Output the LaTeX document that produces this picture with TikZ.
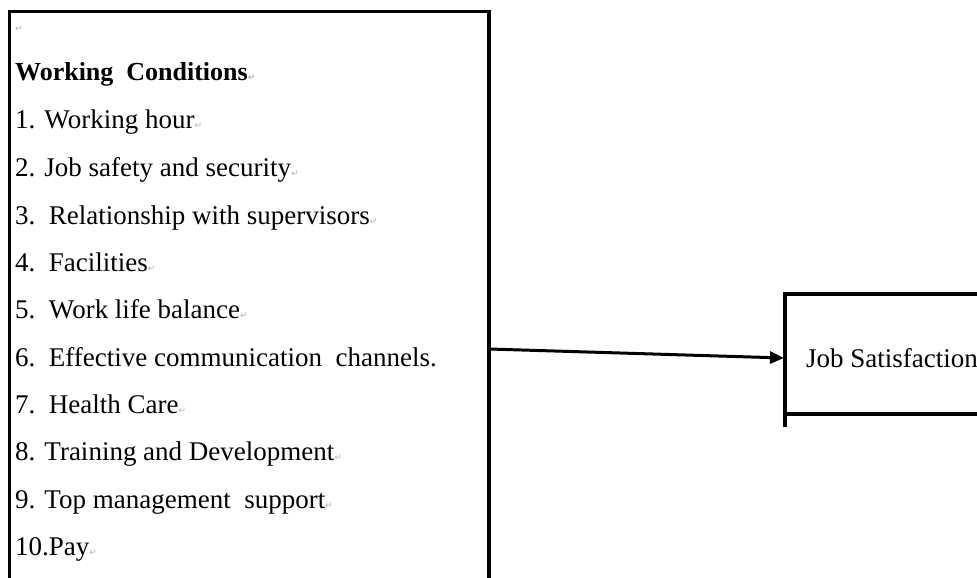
\documentclass[tikz,border=0pt]{standalone}
\usepackage{fontspec}
\setmainfont{Liberation Serif}
\newfontfamily\symfont{DejaVu Sans}
\usetikzlibrary{arrows.meta}
\newcommand\parmk{{\symfont\fontsize{9}{10}\selectfont\textcolor{gray!60}{↵}}}
\tikzset{
  frame/.style={line width=3.2pt, line cap=rect},
  itemtext/.style={anchor=base west, inner sep=0pt, font=\fontsize{27}{30}\selectfont},
  conn/.style={line width=3pt, -{Triangle[length=14pt,width=12pt]}}
}
\begin{document}
\begin{tikzpicture}[x=1pt,y=-1pt]
\useasboundingbox[fill=white] (0,0) rectangle (977,578);
% left box (open at the bottom)
\coordinate (lbl) at (9.5,578);
\coordinate (lbtl) at (9.5,11.5);
\coordinate (lbtr) at (489,11.5);
\coordinate (lbr) at (489,578);
\draw[frame] (lbl) -- (lbtl) -- (lbtr) -- (lbr);
% right box (open at the right)
\coordinate (rbtr) at (977,294);
\coordinate (rbtl) at (785,294);
\coordinate (rbl) at (785,425);
\coordinate (rbbl) at (785,414);
\coordinate (rbbr) at (977,414);
\draw[frame] (rbtr) -- (rbtl) -- (rbl);
\draw[frame] (rbbl) -- (rbbr);
% texts
\node[itemtext] (p0) at (15,32) {\parmk};
\node[itemtext, font=\fontsize{26}{30}\selectfont\bfseries] (t0) at (15,81) {Working\ \ Conditions\parmk};
\node[itemtext] (t1) at (15,128) {1. Working hour\parmk};
\node[itemtext] (t2) at (15,176) {2. Job safety and security\parmk};
\node[itemtext] (t3) at (15,224) {3.\ \ Relationship with supervisors\parmk};
\node[itemtext] (t4) at (15,271) {4.\ \ Facilities\parmk};
\node[itemtext] (t5) at (15,318) {5.\ \ Work life balance\parmk};
\node[itemtext] (t6) at (15,366) {6.\ \ Effective communication\ \ channels.};
\node[itemtext] (t7) at (15,413) {7.\ \ Health Care\parmk};
\node[itemtext] (t8) at (15,460) {8. Training and Development\parmk};
\node[itemtext] (t9) at (15,508) {9. Top management\ \ support\parmk};
\node[itemtext] (t10) at (15,555) {10.Pay\parmk};
\node[itemtext] (js) at (806,367) {Job Satisfaction};
% connector
\coordinate (as) at (489,349);
\coordinate (ae) at (784,358);
\draw[conn] (as) -- (ae);
\end{tikzpicture}
\end{document}
